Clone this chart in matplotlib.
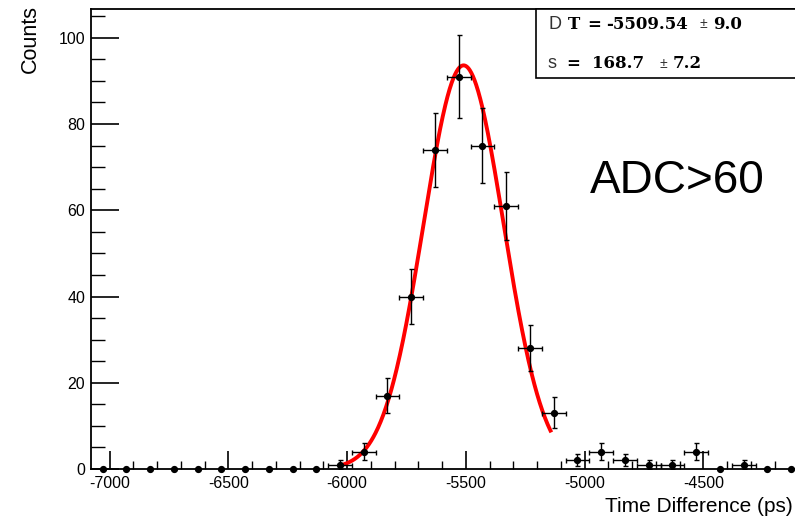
import numpy as np
import matplotlib
matplotlib.use("Agg")
import matplotlib.pyplot as plt
from matplotlib.ticker import MultipleLocator
from matplotlib.patches import Rectangle

plt.rcParams['axes.unicode_minus'] = False

# ---- data ----
bin_centers = [-7030, -6930, -6830, -6730, -6630, -6530, -6430, -6330, -6230, -6130,
               -6030, -5930, -5830, -5730, -5630, -5530, -5430, -5330, -5230, -5130,
               -5030, -4930, -4830, -4730, -4630, -4530, -4430, -4330, -4230, -4130]
counts = [0, 0, 0, 0, 0, 0, 0, 0, 0, 0,
          1, 4, 17, 40, 74, 91, 75, 61, 28, 13,
          2, 4, 2, 1, 1, 4, 0, 1, 0, 0]
bin_half_width = 50

fit_amp = 93.6
fit_mean = -5509.54
fit_sigma = 168.7
fit_range = (-6030, -5140)

stat_line1 = ["D", "T", "=", "-5509.54", "\u00b1", "9.0"]
stat_line2 = ["s", "=", "168.7", "\u00b1", "7.2"]
cut_label = "ADC>60"

W, H = 795, 518
fig = plt.figure(figsize=(W / 100, H / 100), dpi=100)
ax = fig.add_axes([90.7 / W, 1 - 469 / H, (803 - 90.7) / W, (469 - 9.3) / H])

x = np.array(bin_centers, dtype=float)
y = np.array(counts, dtype=float)
nz = y > 0

ax.errorbar(x[nz], y[nz], yerr=np.sqrt(y[nz]), xerr=bin_half_width,
            fmt='none', ecolor='black', elinewidth=1.0, capsize=1.8, capthick=1.0,
            zorder=3)
ax.plot(x, y, 'o', color='black', markersize=4.2, clip_on=False, zorder=4)

xf = np.linspace(fit_range[0], fit_range[1], 400)
yf = fit_amp * np.exp(-0.5 * ((xf - fit_mean) / fit_sigma) ** 2)
ax.plot(xf, yf, color='red', linewidth=2.8, zorder=2, solid_capstyle='butt')

ax.set_xlim(-7080, -4080)
ax.set_ylim(0, 106.6)

ax.xaxis.set_major_locator(MultipleLocator(500))
ax.xaxis.set_minor_locator(MultipleLocator(100))
ax.yaxis.set_major_locator(MultipleLocator(20))
ax.yaxis.set_minor_locator(MultipleLocator(5))

ax.tick_params(axis='x', which='major', direction='in', length=13, width=1.2,
               top=False, labelsize=11.5, pad=5)
ax.tick_params(axis='x', which='minor', direction='in', length=6, width=1.0, top=False)
ax.tick_params(axis='y', which='major', direction='in', length=20, width=1.2,
               right=False, labelsize=11.5, pad=4)
ax.tick_params(axis='y', which='minor', direction='in', length=10, width=1.0, right=False)
for lab in ax.get_xticklabels() + ax.get_yticklabels():
    lab.set_fontfamily('Liberation Sans')
for s in ax.spines.values():
    s.set_linewidth(1.3)

fig.text(793 / W, 1 - 507 / H, "Time Difference (ps)", ha='right', va='center',
         fontsize=15, family='Liberation Sans')
fig.text(30 / W, 1 - 5 / H, "Counts", ha='center', va='top', rotation=90,
         fontsize=15.5, family='Liberation Sans')

fig.text(590 / W, 1 - 181 / H, cut_label, ha='left', va='center',
         fontsize=33, family='Liberation Sans')

# stats box
fig.patches.append(Rectangle((536 / W, 1 - 78 / H), (810 - 536) / W, (78 - 9.3) / H,
                             transform=fig.transFigure, fill=True, facecolor='white',
                             edgecolor='black', linewidth=1.2, zorder=5))

def ft(px, py, s, **kw):
    fig.text(px / W, 1 - py / H, s, va='baseline', ha='left', zorder=6, **kw)

sans = dict(fontsize=13, family='Liberation Sans', color='#333333')
serif = dict(fontsize=12, family='DejaVu Serif', weight='bold')
pm = dict(fontsize=10, family='Liberation Sans', color='#333333')

b1, b2 = 28.5, 68.5
ft(548, b1, stat_line1[0], **sans)
ft(568, b1, stat_line1[1], **serif)
ft(587, b1, stat_line1[2], **serif)
ft(606, b1, stat_line1[3], **serif)
ft(699, b1 - 1, stat_line1[4], **pm)
ft(713, b1, stat_line1[5], **serif)

ft(548, b2, stat_line2[0], **sans)
ft(566, b2, stat_line2[1], **serif)
ft(592, b2, stat_line2[2], **serif)
ft(660, b2 - 1, stat_line2[3], **pm)
ft(673, b2, stat_line2[4], **serif)

fig.savefig("out.png", dpi=100)
